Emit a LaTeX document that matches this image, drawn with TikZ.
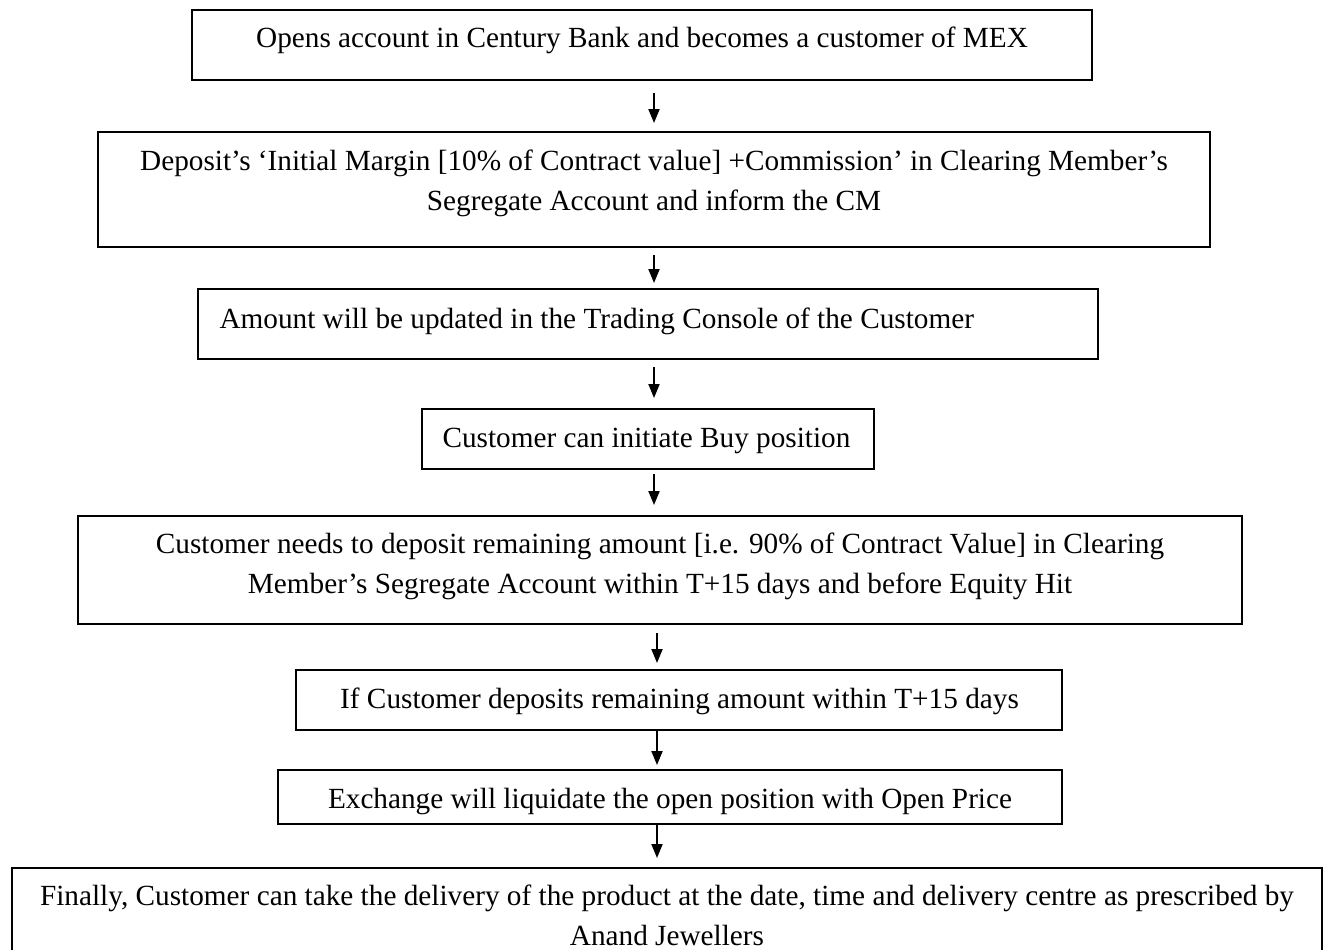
\documentclass[tikz,border=0pt]{standalone}
\usepackage{fontspec}
\setmainfont{Liberation Serif}
\usetikzlibrary{arrows.meta,calc}
\begin{document}
\begin{tikzpicture}[x=0.4pt,y=-0.4pt,
  box/.style={draw=black, line width=0.8pt, inner sep=0pt, outer sep=0pt, rectangle},
  lbl/.style={font=\fontsize{11.7}{16}\selectfont, inner sep=0pt, align=center},
  arr/.style={line width=0.8pt, -{Triangle[length=5.6pt,width=4.4pt]}}]
\useasboundingbox (0,0) rectangle (1324,949);
% boxes
\node[box, minimum width=360pt, minimum height=28pt] (b1) at (642,45) {};
\node[box, minimum width=444.8pt, minimum height=46pt] (b2) at (654,189.5) {};
\node[box, minimum width=360pt, minimum height=28pt] (b3) at (648,324) {};
\node[box, minimum width=180.8pt, minimum height=24pt] (b4) at (648,439) {};
\node[box, minimum width=465.6pt, minimum height=43.2pt] (b5) at (660,570) {};
\node[box, minimum width=306.4pt, minimum height=24pt] (b6) at (679,700) {};
\node[box, minimum width=313.6pt, minimum height=21.6pt] (b7) at (670,797) {};
\node[box, minimum width=524pt, minimum height=37.6pt] (b8) at (667,915) {};
% texts (base anchor = baseline of the last line)
\node[lbl, anchor=base] (t1) at (642,47) {Opens account in Century Bank and becomes a customer of MEX};
\node[lbl, anchor=base] (t2) at (654,210) {Deposit’s ‘Initial Margin [10\% of Contract value] +Commission’ in Clearing Member’s\\Segregate Account and inform the CM};
\node[lbl, anchor=base west] (t3) at (219,328) {Amount will be updated in the Trading Console of the Customer};
\node[lbl, anchor=base] (t4) at (646.5,447) {Customer can initiate Buy position};
\node[lbl, anchor=base] (t5) at (660,593) {Customer needs to deposit remaining amount [i.e. 90\% of Contract Value] in Clearing\\Member’s Segregate Account within T+15 days and before Equity Hit};
\node[lbl, anchor=base] (t6) at (679.5,708) {If Customer deposits remaining amount within T+15 days};
\node[lbl, anchor=base] (t7) at (670,808) {Exchange will liquidate the open position with Open Price};
\node[lbl, anchor=base] (t8) at (667,945) {Finally, Customer can take the delivery of the product at the date, time and delivery centre as prescribed by\\Anand Jewellers};
% arrows
\coordinate (ax) at (654,0);
\coordinate (bx) at (657,0);
\draw[arr, shorten <=5.2pt, shorten >=3.6pt] (b1.south -| ax) -- (b2.north -| ax);
\draw[arr, shorten <=3.2pt, shorten >=2.4pt] (b2.south -| ax) -- (b3.north -| ax);
\draw[arr, shorten <=3.2pt, shorten >=4.4pt] (b3.south -| ax) -- (b4.north -| ax);
\draw[arr, shorten <=2pt, shorten >=4.4pt] (b4.south -| ax) -- (b5.north -| ax);
\draw[arr, shorten <=3.6pt, shorten >=2.8pt] (b5.south -| bx) -- (b6.north -| bx);
\draw[arr, shorten >=2pt] (b6.south -| bx) -- (b7.north -| bx);
\draw[arr, shorten >=4pt] (b7.south -| bx) -- (b8.north -| bx);
\end{tikzpicture}
\end{document}
